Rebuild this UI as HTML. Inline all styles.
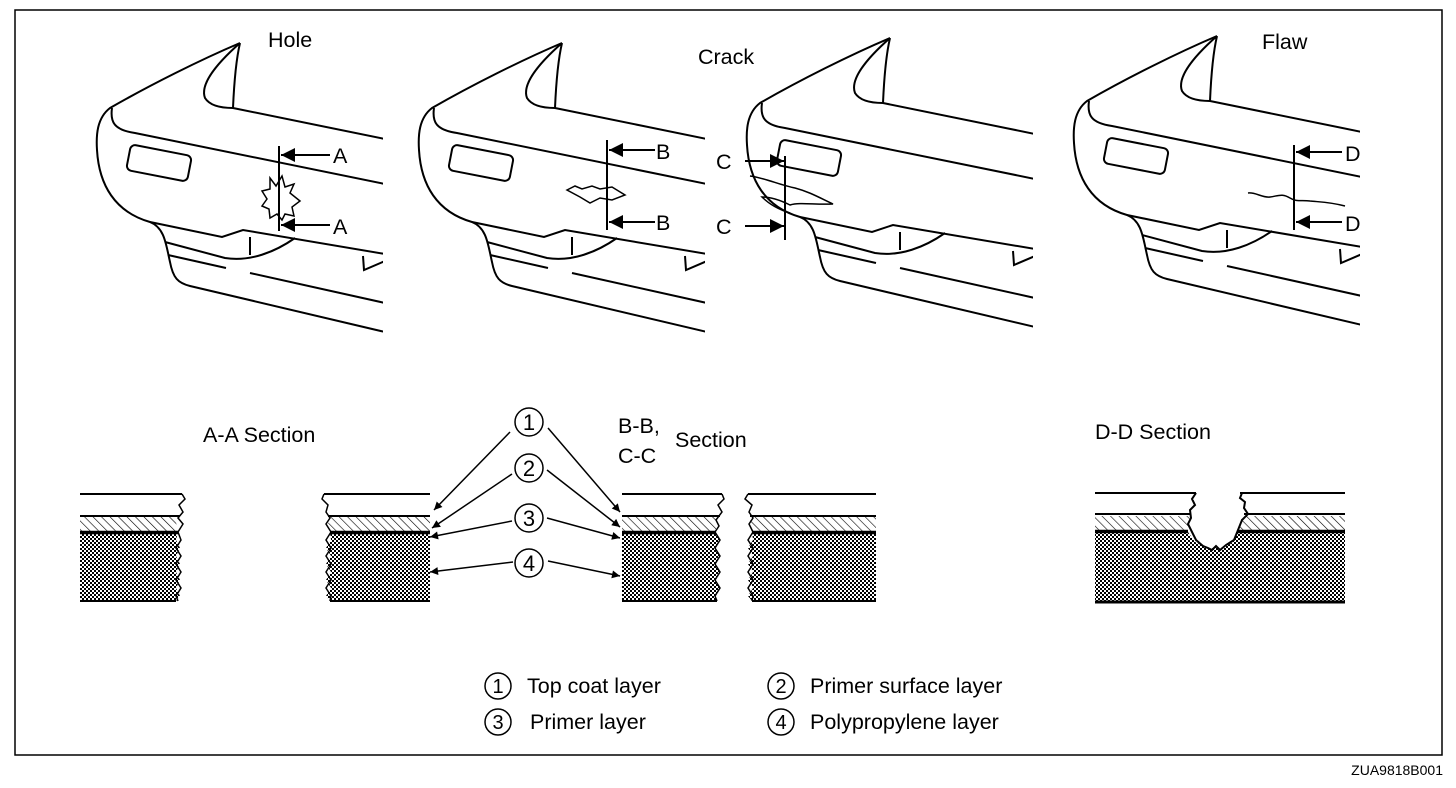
<!DOCTYPE html>
<html><head><meta charset="utf-8"><style>
body{margin:0;background:#fff}
svg{display:block}
text{font-family:"Liberation Sans",Arial,sans-serif;font-size:21.5px;fill:#000}
</style></head><body>
<svg width="1456" height="788" viewBox="0 0 1456 788" xmlns="http://www.w3.org/2000/svg">
<defs>
<pattern id="hatch" width="6" height="6" patternUnits="userSpaceOnUse" patternTransform="rotate(-45)">
<line x1="0" y1="0" x2="0" y2="6" stroke="#000" stroke-width="1.2"/>
</pattern>
<pattern id="dots" width="4" height="4" patternUnits="userSpaceOnUse">
<rect width="4" height="4" fill="#fff"/>
<rect x="0" y="0" width="2" height="2" fill="#000"/>
<rect x="2" y="2" width="2" height="2" fill="#000"/>
</pattern>
<clipPath id="cc"><rect x="80" y="20" width="303" height="330"/></clipPath>
<g id="car" fill="none" stroke="#000" stroke-width="2" clip-path="url(#cc)">
<path d="M240,43 C200,60 150,85 110,108 C97,118 96,135 97,150 C99,185 115,212 150,222 C165,228 166,245 170,262 C173,278 178,283 190,286 L385,332"/>
<path d="M240,43 C215,65 200,85 205,98 C210,106 222,108 233,108 C234,85 236,60 240,43"/>
<path d="M233,108 L385,139"/>
<path d="M112,108 C110,122 114,130 135,133 L385,184"/>
<rect x="128" y="150" width="62" height="26" rx="5" transform="rotate(11 159 163)"/>
<path d="M150,222 L222,237 L243,230 L385,254"/>
<path d="M165,242 L225,258 C250,262 275,252 295,238"/>
<path d="M250,237 L250,255"/>
<path d="M168,255 L226,268"/>
<path d="M250,273 L385,303"/>
<path d="M363,256 L364,270 L385,261"/>
</g>
<marker id="ah" viewBox="0 0 10 10" refX="10" refY="5" markerWidth="14" markerHeight="8" orient="auto" markerUnits="userSpaceOnUse"><path d="M0,0 L10,5 L0,10 z" fill="#000"/></marker>
<marker id="ah2" viewBox="0 0 10 10" refX="10" refY="5" markerWidth="26" markerHeight="14" orient="auto" markerUnits="userSpaceOnUse"><path d="M0,0 L10,5 L0,10 z" fill="#000"/></marker>
</defs>
<rect x="15" y="10" width="1427" height="745" fill="none" stroke="#000" stroke-width="1.5"/>

<use href="#car"/>
<use href="#car" transform="translate(322,0)"/>
<use href="#car" transform="translate(650,-5)"/>
<use href="#car" transform="translate(977,-7)"/>

<g fill="none" stroke="#000" stroke-width="2">
<path d="M270,178 L276,186 L282,176 L285,187 L294,184 L290,193 L300,201 L292,207 L294,216 L285,214 L282,220 L277,214 L270,218 L269,209 L262,206 L267,199 L262,191 L270,189 Z" stroke-width="1.5"/>
<line x1="279" y1="146" x2="279" y2="231"/>
<line x1="330" y1="155" x2="281" y2="155" marker-end="url(#ah2)"/>
<line x1="330" y1="225" x2="281" y2="225" marker-end="url(#ah2)"/>
<path d="M567,190 L575,186 L582,189 L592,186 L600,189 L612,187 L625,195 L612,200 L600,198 L590,203 L580,197 Z" stroke-width="1.5"/>
<line x1="607" y1="140" x2="607" y2="230"/>
<line x1="655" y1="150" x2="609" y2="150" marker-end="url(#ah2)"/>
<line x1="655" y1="222" x2="609" y2="222" marker-end="url(#ah2)"/>
<path d="M750,176 C765,178 780,185 795,188 C810,192 820,198 833,204 C815,205 800,202 790,205 C780,200 770,197 762,197 C770,205 780,210 790,213" stroke-width="1.5"/>
<line x1="785" y1="156" x2="785" y2="240"/>
<line x1="745" y1="161" x2="784" y2="161" marker-end="url(#ah2)"/>
<line x1="745" y1="226" x2="784" y2="226" marker-end="url(#ah2)"/>
<path d="M1248,193 C1256,192 1262,198 1270,197 C1278,196 1282,193 1290,198 C1296,202 1302,200 1310,201 C1320,202 1330,202 1345,206" stroke-width="1.5"/>
<line x1="1294" y1="145" x2="1294" y2="230"/>
<line x1="1342" y1="152" x2="1296" y2="152" marker-end="url(#ah2)"/>
<line x1="1342" y1="222" x2="1296" y2="222" marker-end="url(#ah2)"/>
</g>
<text x="333" y="163">A</text><text x="333" y="234">A</text>
<text x="656" y="159">B</text><text x="656" y="230">B</text>
<text x="716" y="169">C</text><text x="716" y="234">C</text>
<text x="1345" y="161">D</text><text x="1345" y="231">D</text>
<text x="268" y="47">Hole</text>
<text x="698" y="64">Crack</text>
<text x="1262" y="49">Flaw</text>

<g stroke="#000" fill="none">
<path d="M80,532 L178,532 L176,540 L180,548 L176,556 L180,564 L176,572 L180,580 L176,588 L180,596 L176,601 L80,601 Z" fill="url(#dots)" stroke="none"/>
<path d="M80,516 L180,516 L176,523 L180,532 L80,532 Z" fill="url(#hatch)" stroke="none"/>
<line x1="80" y1="494" x2="182" y2="494" stroke-width="2"/>
<line x1="80" y1="516" x2="180" y2="516" stroke-width="2"/>
<line x1="80" y1="532.5" x2="178" y2="532.5" stroke-width="3.5"/>
<line x1="80" y1="601" x2="176" y2="601" stroke-width="2"/>
<path d="M182,494 L185,499 L179,505 L183,512 L178,518 L183,524 L178,532 L181,540 L176,548 L181,556 L176,564 L181,572 L176,580 L181,588 L176,596 L178,601" stroke-width="1.5"/>
<path d="M330,532 L430,532 L430,601 L330,601 L326,596 L331,588 L326,580 L331,572 L326,564 L331,556 L326,548 L331,540 Z" fill="url(#dots)" stroke="none"/>
<path d="M330,516 L430,516 L430,532 L330,532 L328,524 Z" fill="url(#hatch)" stroke="none"/>
<line x1="324" y1="494" x2="430" y2="494" stroke-width="2"/>
<line x1="328" y1="516" x2="430" y2="516" stroke-width="2"/>
<line x1="330" y1="532.5" x2="430" y2="532.5" stroke-width="3.5"/>
<line x1="330" y1="601" x2="430" y2="601" stroke-width="2"/>
<path d="M324,494 L322,499 L328,505 L326,512 L330,518 L326,524 L331,532 L326,540 L331,548 L326,556 L331,564 L326,572 L331,580 L326,588 L331,596 L330,601" stroke-width="1.5"/>
<path d="M622,532 L715,532 L720,540 L715,548 L720,556 L715,564 L720,572 L715,580 L720,588 L715,596 L717,601 L622,601 Z" fill="url(#dots)" stroke="none"/>
<path d="M622,516 L720,516 L716,524 L716,532 L622,532 Z" fill="url(#hatch)" stroke="none"/>
<line x1="622" y1="494" x2="722" y2="494" stroke-width="2"/>
<line x1="622" y1="516" x2="720" y2="516" stroke-width="2"/>
<line x1="622" y1="532.5" x2="716" y2="532.5" stroke-width="3.5"/>
<line x1="622" y1="601" x2="717" y2="601" stroke-width="2"/>
<path d="M722,494 L724,499 L718,505 L722,512 L716,520 L719,526 L715,532 L720,540 L715,548 L720,556 L715,564 L720,572 L715,580 L720,588 L715,596 L717,601" stroke-width="1.5"/>
<path d="M752,532 L876,532 L876,601 L752,601 L748,596 L753,588 L748,580 L753,572 L748,564 L753,556 L748,548 L753,540 Z" fill="url(#dots)" stroke="none"/>
<path d="M752,516 L876,516 L876,532 L752,532 L749,524 Z" fill="url(#hatch)" stroke="none"/>
<line x1="748" y1="494" x2="876" y2="494" stroke-width="2"/>
<line x1="750" y1="516" x2="876" y2="516" stroke-width="2"/>
<line x1="752" y1="532.5" x2="876" y2="532.5" stroke-width="3.5"/>
<line x1="752" y1="601" x2="876" y2="601" stroke-width="2"/>
<path d="M748,494 L745,499 L752,505 L749,512 L753,518 L749,524 L753,532 L748,540 L753,548 L748,556 L753,564 L748,572 L753,580 L748,588 L753,596 L752,601" stroke-width="1.5"/>
<path d="M1095,532 L1188,532 L1195,542 L1205,546 L1210,550 L1215,546 L1220,551 L1226,546 L1233,542 L1238,532 L1345,532 L1345,601 L1095,601 Z" fill="url(#dots)" stroke="none"/>
<path d="M1095,516 L1190,516 L1188,524 L1188,532 L1095,532 Z M1242,516 L1345,516 L1345,532 L1238,532 Z" fill="url(#hatch)" stroke="none"/>
<line x1="1095" y1="493" x2="1196" y2="493" stroke-width="2"/>
<line x1="1240" y1="493" x2="1345" y2="493" stroke-width="2"/>
<line x1="1095" y1="514" x2="1190" y2="514" stroke-width="2"/>
<line x1="1244" y1="514" x2="1345" y2="514" stroke-width="2"/>
<line x1="1095" y1="531.5" x2="1188" y2="531.5" stroke-width="3.5"/>
<line x1="1238" y1="531.5" x2="1345" y2="531.5" stroke-width="3.5"/>
<line x1="1095" y1="602" x2="1345" y2="602" stroke-width="3"/>
<path d="M1196,493 L1192,499 L1195,505 L1190,510 L1191,518 L1188,524 L1191,530 L1196,540 L1203,546 L1208,548 L1212,550 L1216,546 L1220,550 L1226,545 L1234,540 L1238,530 L1242,520 L1248,514 L1244,508 L1245,502 L1240,498 L1242,493" stroke-width="2"/>
</g>

<g fill="none" stroke="#000" stroke-width="1.5">
<circle cx="529" cy="422" r="14"/><circle cx="529" cy="468" r="14"/>
<circle cx="529" cy="518" r="14"/><circle cx="529" cy="563" r="14"/>
<line x1="510" y1="432" x2="434" y2="510" marker-end="url(#ah)"/>
<line x1="548" y1="428" x2="620" y2="512" marker-end="url(#ah)"/>
<line x1="512" y1="474" x2="432" y2="528" marker-end="url(#ah)"/>
<line x1="547" y1="470" x2="620" y2="527" marker-end="url(#ah)"/>
<line x1="512" y1="521" x2="430" y2="537" marker-end="url(#ah)"/>
<line x1="547" y1="518" x2="620" y2="538" marker-end="url(#ah)"/>
<line x1="513" y1="562" x2="430" y2="572" marker-end="url(#ah)"/>
<line x1="548" y1="561" x2="620" y2="576" marker-end="url(#ah)"/>
<circle cx="498" cy="686" r="13"/><circle cx="498" cy="722" r="13"/>
<circle cx="781" cy="686" r="13"/><circle cx="781" cy="722" r="13"/>
</g>
<g text-anchor="middle">
<text x="529" y="430" style="font-size:22px">1</text><text x="529" y="476" style="font-size:22px">2</text>
<text x="529" y="526" style="font-size:22px">3</text><text x="529" y="571" style="font-size:22px">4</text>
<text x="498" y="693" style="font-size:20px">1</text><text x="498" y="729" style="font-size:20px">3</text>
<text x="781" y="693" style="font-size:20px">2</text><text x="781" y="729" style="font-size:20px">4</text>
</g>
<text x="203" y="442">A-A Section</text>
<text x="618" y="433">B-B,</text>
<text x="618" y="463">C-C</text>
<text x="675" y="447">Section</text>
<text x="1095" y="439">D-D Section</text>
<text x="527" y="693">Top coat layer</text>
<text x="530" y="729">Primer layer</text>
<text x="810" y="693">Primer surface layer</text>
<text x="810" y="729">Polypropylene layer</text>
<text x="1443" y="775" text-anchor="end" style="font-size:14px">ZUA9818B001</text>
</svg>
</body></html>
